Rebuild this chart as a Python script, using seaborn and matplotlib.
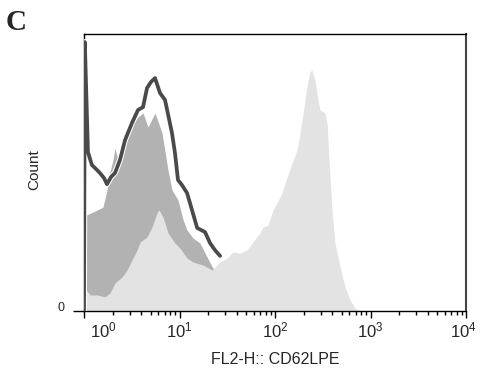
import matplotlib
matplotlib.use("Agg")
import matplotlib.pyplot as plt
import matplotlib.patheffects as pe
import matplotlib.transforms as mtrans
from matplotlib.ticker import NullFormatter
import numpy as np
import pandas as pd
import seaborn as sns

# Dados (intensidade FL2-H, contagem relativa 0-100)

# Histograma cinza claro (fundo)
claro_x = [1.0, 1.155, 1.37, 1.66, 1.87, 2.11, 2.50, 2.82, 3.18, 3.59, 3.86, 4.57,
           5.15, 5.81, 6.10, 6.72, 7.58, 8.97, 10.1, 12.0, 13.8, 17.6, 21.9, 26.6,
           31.4, 36.3, 43.0, 50.9, 58.8, 69.6, 74.8, 84.5, 95.3, 105, 118, 134,
           151, 170, 183, 197, 216, 232, 244, 262, 282, 296, 334, 351, 368, 395,
           425, 480, 541, 610, 688, 776, 10000]
claro_y = [8.7, 5.8, 5.8, 5.1, 6.5, 10.1, 12.3, 14.8, 18.4, 22.0, 24.9, 26.7,
           30.3, 35.4, 36.5, 33.9, 28.2, 24.5, 22.7, 19.1, 17.7, 16.6, 14.8, 17.7,
           19.1, 21.3, 20.9, 22.0, 24.9, 28.2, 30.3, 31.0, 36.5, 39.0, 42.6, 48.4,
           53.4, 58.1, 64.3, 71.5, 80.9, 86.3, 87.0, 83.4, 76.2, 72.6, 71.5, 67.9,
           54.5, 36.5, 24.5, 15.9, 8.7, 4.0, 1.1, 0.0, 0.0]

# Histograma cinza médio
medio_x = [1.0, 1.24, 1.58, 1.74, 1.87, 2.01, 2.11, 2.27, 2.56, 3.03, 3.68, 4.15,
           4.68, 5.54, 6.56, 7.58, 8.34, 9.64, 10.9, 12.0, 13.8, 16.4, 19.4, 22.4,
           29.9, 43.0]
medio_y = [34.3, 35.7, 37.5, 43.7, 50.2, 54.5, 58.8, 54.5, 61.7, 66.4, 70.0, 71.5,
           66.4, 71.5, 64.3, 50.9, 43.7, 40.1, 32.9, 29.2, 26.4, 24.5, 19.5, 15.5,
           7.6, 0.0]

# Histograma em linha escura
escuro_x = [1.0, 1.02, 1.10, 1.21, 1.37, 1.47, 1.62, 1.74, 1.92, 2.11, 2.38, 2.69,
            3.18, 3.68, 4.15, 4.57, 5.03, 5.54, 6.25, 7.05, 8.34, 8.97, 9.64, 10.6,
            12.0, 13.8, 15.3, 18.5, 20.9, 23.5, 26.6]
escuro_y = [0.0, 97.1, 57.4, 52.7, 50.9, 49.8, 48.0, 45.8, 48.4, 49.8, 54.5, 61.7,
            67.9, 72.6, 73.6, 80.5, 82.7, 84.1, 78.7, 76.2, 64.3, 57.0, 47.3, 45.5,
            42.6, 35.4, 30.0, 28.5, 24.5, 22.0, 19.9]

decadas = [1, 10, 100, 1000, 10000]
rotulos_x = [r"$\mathdefault{10^{%d}}$" % i for i in range(5)]

sns.set_style("ticks")
plt.rcParams["font.family"] = ["Liberation Sans", "DejaVu Sans"]
plt.rcParams["mathtext.default"] = "regular"

fig = plt.figure(figsize=(4.86, 3.83), dpi=100)
ax = fig.add_axes([84 / 486, 1 - 311 / 383, 382 / 486, 277 / 383])

ax.fill_between(medio_x, medio_y, color="#b2b2b2", lw=0, zorder=1)
ax.fill_between(claro_x, claro_y, color="#e3e3e3", lw=0, zorder=2)

df_escuro = pd.DataFrame({"x": escuro_x, "y": escuro_y})
sns.lineplot(data=df_escuro, x="x", y="y", sort=False, estimator=None,
             color="#4a4a4a", lw=2.7, ax=ax, zorder=3,
             path_effects=[pe.Stroke(linewidth=4.2, foreground="white"), pe.Normal()])

ax.set_xscale("log")
ax.set_xlim(1, 10000)
ax.set_ylim(0, 100)

ax.set_xticks(decadas)
ax.set_xticklabels(rotulos_x)
ax.xaxis.set_minor_formatter(NullFormatter())
ax.set_yticks([0])
ax.set_yticklabels(["0"])

ax.tick_params(axis="x", which="major", length=5, width=1, labelsize=12, pad=2, color="black")
ax.tick_params(axis="x", which="minor", length=3, width=1, color="black")
ax.tick_params(axis="y", length=8, width=1, labelsize=9, pad=6, color="black")

for lado in ["top", "bottom", "left"]:
    ax.spines[lado].set_color("black")
    ax.spines[lado].set_linewidth(1.0)
ax.spines["right"].set_color("#444444")
ax.spines["right"].set_linewidth(1.5)

# desloca os rótulos das pontas, como no original
lbls = ax.get_xticklabels()
lbls[0].set_transform(lbls[0].get_transform() + mtrans.ScaledTranslation(14 / 72, 0, fig.dpi_scale_trans))
lbls[-1].set_transform(lbls[-1].get_transform() + mtrans.ScaledTranslation(-2 / 72, 0, fig.dpi_scale_trans))
ylbl = ax.get_yticklabels()[0]
ylbl.set_transform(ylbl.get_transform() + mtrans.ScaledTranslation(0, 3 / 72, fig.dpi_scale_trans))

ax.set_xlabel("FL2-H:: CD62LPE", fontsize=11.5, labelpad=8)
ax.set_ylabel("")
fig.text(34 / 486, 1 - 170 / 383, "Count", rotation=90, ha="center", va="center",
         fontsize=11, family=["Liberation Sans Narrow", "Liberation Sans", "DejaVu Sans"])
fig.text(6 / 486, 1 - 9 / 383, "C", fontsize=21, fontweight="bold",
         family=["Liberation Serif", "DejaVu Serif"], ha="left", va="top")

fig.savefig("out.png", dpi=100)
